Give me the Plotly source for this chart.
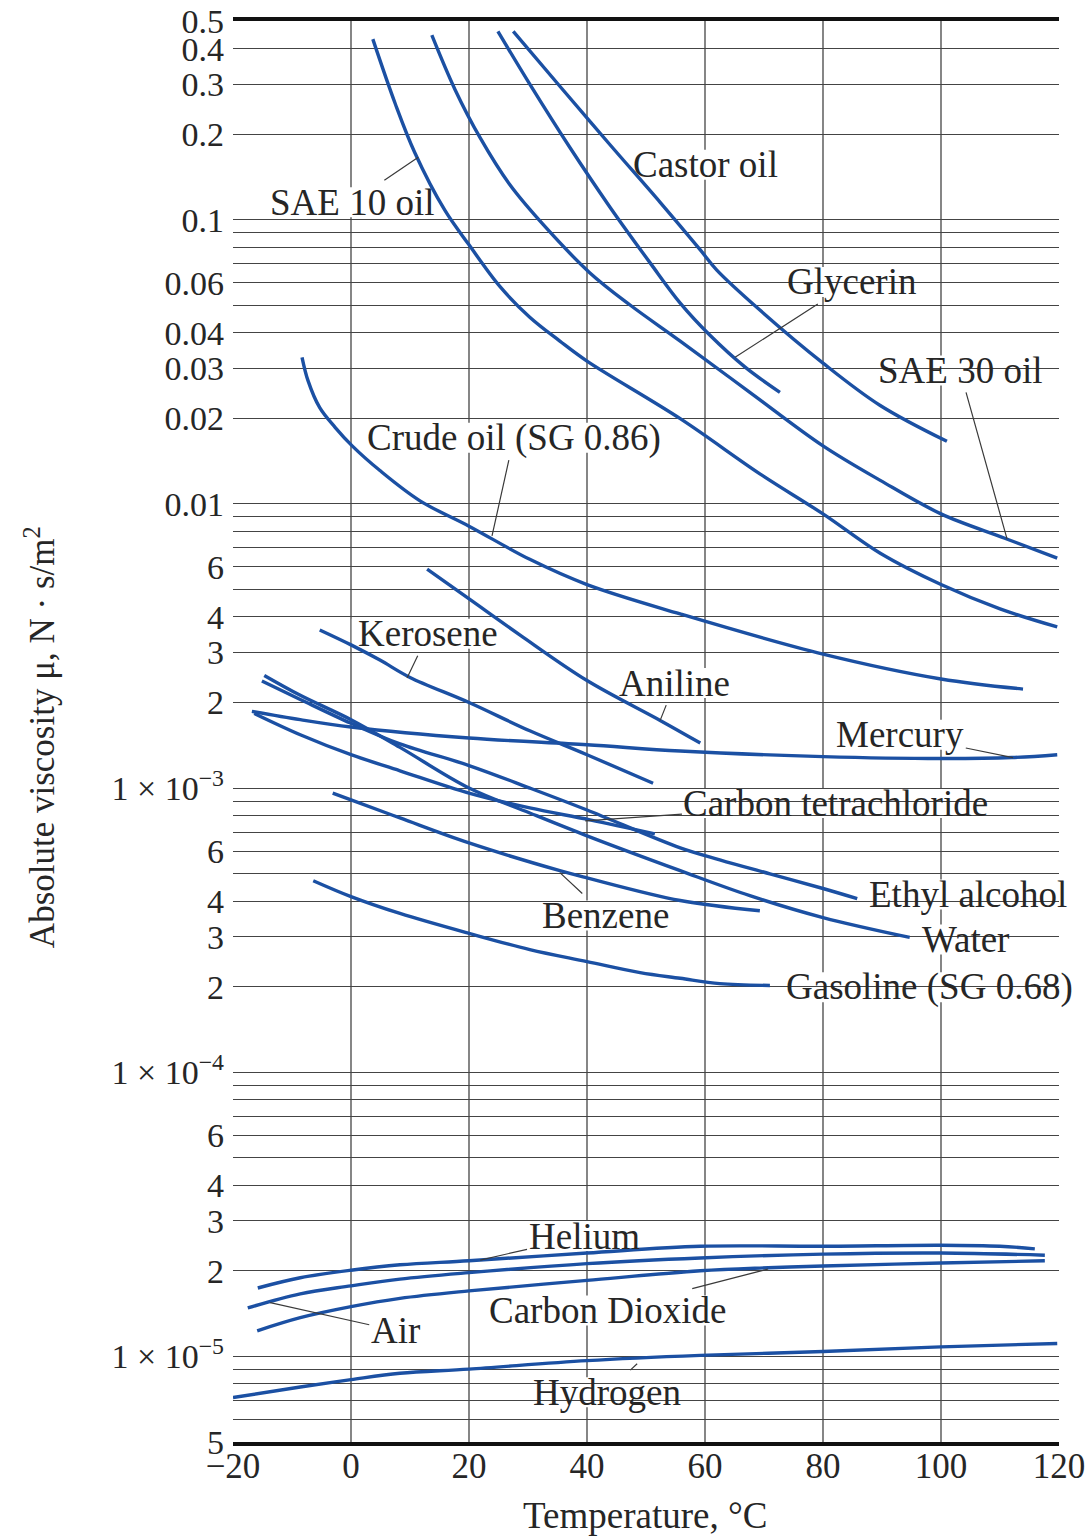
import numpy as np
import plotly.graph_objects as go

# ---------------- data: temperature (deg C) and absolute viscosity (N*s/m^2) ----------------
SAE10_T = [3.7, 7.5, 10.8, 15.9, 20, 25.3, 30.3, 35.4, 40, 55.8, 69.3, 80, 89.7, 100, 110, 119.7]
SAE10_MU = [0.432, 0.256, 0.1725, 0.108, 0.0816, 0.058, 0.0454, 0.0374, 0.0318, 0.01995,
            0.01276, 0.00922, 0.0067, 0.0052, 0.00427, 0.00369]

SAE30_T = [13.7, 17.6, 21.9, 26.9, 32.9, 40.5, 47.3, 55.8, 67.6, 80, 89.7, 100, 110.8, 119.7]
SAE30_MU = [0.446, 0.288, 0.194, 0.133, 0.0945, 0.065, 0.0501, 0.0374, 0.0247, 0.016,
            0.0121, 0.00922, 0.00757, 0.00644]

GLYCERIN_T = [24.9, 30.3, 37.1, 43.9, 50.7, 55.8, 60.8, 66.8, 72.7]
GLYCERIN_MU = [0.46, 0.30, 0.1795, 0.1107, 0.0705, 0.0509, 0.0393, 0.0303, 0.0247]

CASTOR_T = [27.5, 35.4, 43.9, 52.4, 59.2, 62, 69.3, 80, 89.7, 101]
CASTOR_MU = [0.46, 0.295, 0.1836, 0.1151, 0.0783, 0.0665, 0.0481, 0.0313, 0.0222, 0.0166]

CRUDE_T = [-8.3, -7.3, -5.3, -2.7, 0.2, 4.9, 11.7, 20, 30.3, 40, 55.8, 80, 100, 113.9]
CRUDE_MU = [0.0328, 0.0272, 0.0218, 0.0186, 0.016, 0.0131, 0.01025, 0.00835, 0.00638, 0.0052,
            0.0041, 0.00296, 0.00242, 0.00223]

KEROSENE_T = [-5.3, 0, 4.9, 10, 20, 30.3, 40, 51.2]
KEROSENE_MU = [0.0036, 0.00319, 0.00282, 0.00245, 0.0020, 0.00159, 0.00131, 0.00104]

ANILINE_T = [12.9, 20.2, 28.6, 40, 52.4, 59.2]
ANILINE_MU = [0.00589, 0.0046, 0.00346, 0.00239, 0.00173, 0.00144]

MERCURY_T = [-16.8, -8.6, 0, 20, 40, 55.8, 80, 100, 112, 119.7]
MERCURY_MU = [0.00186, 0.00174, 0.00164, 0.00150, 0.00142, 0.00135, 0.00129, 0.00127,
              0.00128, 0.00131]

WATER_T = [-14.7, -8.6, 0, 8.3, 20, 30.3, 40, 55.8, 67.6, 80, 94.7]
WATER_MU = [0.00249, 0.00212, 0.00174, 0.00139, 0.0010, 0.000817, 0.000679, 0.000512,
            0.000418, 0.00035, 0.000298]

ETHANOL_T = [-15.1, -8.6, 0, 8.3, 20, 30.3, 40, 55.8, 62.5, 71, 80, 85.8]
ETHANOL_MU = [0.00238, 0.00205, 0.00169, 0.00143, 0.0012, 0.0010, 0.000837, 0.000616,
              0.000559, 0.000499, 0.000443, 0.000408]

CCL4_T = [-16.4, -8.6, 0, 8.3, 20, 30.3, 40.5, 51.5]
CCL4_MU = [0.00183, 0.00154, 0.00131, 0.00115, 0.00096, 0.000851, 0.000773, 0.00069]

BENZENE_T = [-3.1, 0, 8.3, 20, 35.4, 40, 55.8, 69.3]
BENZENE_MU = [0.00096, 0.000908, 0.000785, 0.000641, 0.000512, 0.000483, 0.000402, 0.00037]

GASOLINE_T = [-6.4, 0, 8.3, 20, 30.3, 40, 49, 55.8, 62.5, 71]
GASOLINE_MU = [0.000472, 0.000415, 0.000362, 0.000308, 0.00027, 0.000245, 0.000224,
               0.000214, 0.000205, 0.000202]

HELIUM_T = [-15.8, -8.6, 0, 8.3, 20, 40, 59.2, 80, 100, 110, 115.9]
HELIUM_MU = [1.74e-5, 1.89e-5, 2.01e-5, 2.10e-5, 2.17e-5, 2.31e-5, 2.44e-5, 2.44e-5,
             2.46e-5, 2.44e-5, 2.39e-5]

AIR_T = [-17.5, -8.6, 0, 8.3, 20, 40, 59.2, 80, 100, 117.6]
AIR_MU = [1.48e-5, 1.66e-5, 1.77e-5, 1.87e-5, 1.97e-5, 2.12e-5, 2.22e-5, 2.29e-5, 2.31e-5, 2.27e-5]

CO2_T = [-15.9, -8.6, 0, 8.3, 20, 40, 59.2, 70.7, 80, 100, 117.6]
CO2_MU = [1.23e-5, 1.368e-5, 1.496e-5, 1.60e-5, 1.70e-5, 1.85e-5, 2.00e-5, 2.05e-5, 2.08e-5,
          2.13e-5, 2.17e-5]

HYDROGEN_T = [-20, -8.6, 0, 8.3, 20, 40, 59.2, 80, 100, 119.7]
HYDROGEN_MU = [7.16e-6, 7.80e-6, 8.28e-6, 8.72e-6, 9.02e-6, 9.66e-6, 1.008e-5, 1.04e-5,
               1.08e-5, 1.11e-5]

SERIES = [
    ("SAE 10 oil", SAE10_T, SAE10_MU),
    ("SAE 30 oil", SAE30_T, SAE30_MU),
    ("Glycerin", GLYCERIN_T, GLYCERIN_MU),
    ("Castor oil", CASTOR_T, CASTOR_MU),
    ("Crude oil (SG 0.86)", CRUDE_T, CRUDE_MU),
    ("Kerosene", KEROSENE_T, KEROSENE_MU),
    ("Aniline", ANILINE_T, ANILINE_MU),
    ("Mercury", MERCURY_T, MERCURY_MU),
    ("Water", WATER_T, WATER_MU),
    ("Ethyl alcohol", ETHANOL_T, ETHANOL_MU),
    ("Carbon tetrachloride", CCL4_T, CCL4_MU),
    ("Benzene", BENZENE_T, BENZENE_MU),
    ("Gasoline (SG 0.68)", GASOLINE_T, GASOLINE_MU),
    ("Helium", HELIUM_T, HELIUM_MU),
    ("Air", AIR_T, AIR_MU),
    ("Carbon Dioxide", CO2_T, CO2_MU),
    ("Hydrogen", HYDROGEN_T, HYDROGEN_MU),
]

# ---------------- axes ----------------
X_TICKS = [-20, 0, 20, 40, 60, 80, 100, 120]
X_TICK_TEXT = ["\u221220", "0", "20", "40", "60", "80", "100", "120"]
X_GRID = [0, 20, 40, 60, 80, 100]

# labelled horizontal grid lines
Y_TICKS = [0.5, 0.4, 0.3, 0.2, 0.1, 0.06, 0.04, 0.03, 0.02, 0.01,
           6e-3, 4e-3, 3e-3, 2e-3, 1e-3,
           6e-4, 4e-4, 3e-4, 2e-4, 1e-4,
           6e-5, 4e-5, 3e-5, 2e-5, 1e-5, 5e-6]
Y_TICK_TEXT = ["0.5", "0.4", "0.3", "0.2", "0.1", "0.06", "0.04", "0.03", "0.02", "0.01",
               "6", "4", "3", "2", "1 \u00d7 10<sup>\u22123</sup>",
               "6", "4", "3", "2", "1 \u00d7 10<sup>\u22124</sup>",
               "6", "4", "3", "2", "1 \u00d7 10<sup>\u22125</sup>", "5"]
# unlabelled horizontal grid lines
Y_GRID_ONLY = [0.09, 0.08, 0.07, 0.05,
               9e-3, 8e-3, 7e-3, 5e-3,
               9e-4, 8e-4, 7e-4, 5e-4,
               9e-5, 8e-5, 7e-5, 5e-5,
               9e-6, 8e-6, 7e-6, 6e-6]

X_RANGE = [-20, 120]
Y_MIN, Y_MAX = 5e-6, 0.5

# label: text, text-centre (T, mu), leader target (T, mu) or None, white gap width (px)
LABELS = [
    ("SAE 10 oil", 0.2, 0.1151, 11.4, 0.166, 175),
    ("Castor oil", 60.0, 0.156, None, None, 154),
    ("Glycerin", 84.9, 0.0604, 65.1, 0.0328, 135),
    ("SAE 30 oil", 103.2, 0.0295, 111.2, 0.00752, 176),
    ("Crude oil (SG 0.86)", 27.6, 0.0171, 23.9, 0.00771, 312),
    ("Kerosene", 13.1, 0.00349, 9.5, 0.00244, 147),
    ("Aniline", 54.9, 0.00234, 52.4, 0.00173, 118),
    ("Mercury", 93.1, 0.00154, 112.2, 0.00128, 134),
    ("Carbon tetrachloride", 82.2, 0.000885, 39.7, 0.000766, 327),
    ("Ethyl alcohol", 104.6, 0.000422, None, None, 211),
    ("Water", 104.1, 0.000293, None, None, 92),
    ("Benzene", 43.2, 0.000356, 35.4, 0.000504, 133),
    ("Gasoline (SG 0.68)", 98.0, 0.000199, None, None, 306),
    ("Helium", 39.5, 2.65e-5, 21.9, 2.18e-5, 120),
    ("Carbon Dioxide", 43.4, 1.449e-5, 70.7, 2.03e-5, 255),
    ("Air", 7.5, 1.233e-5, -13.7, 1.545e-5, 48),
    ("Hydrogen", 43.4, 7.48e-6, 48.5, 9.42e-6, 160),
]

FONT = "Liberation Serif, Times New Roman, serif"
LINE_COLOR = "#1b50a3"
GRID_COLOR = "#444444"
TEXT_COLOR = "#262626"

fig = go.Figure()
for name, t, mu in SERIES:
    fig.add_trace(go.Scatter(x=t, y=mu, mode="lines", name=name,
                             line=dict(color=LINE_COLOR, width=3.4, shape="spline", smoothing=1.0),
                             hoverinfo="name+x+y"))

# vertical grid lines
for t in X_GRID:
    fig.add_shape(type="line", xref="x", yref="paper", x0=t, x1=t, y0=0, y1=1,
                  line=dict(color=GRID_COLOR, width=1.3), layer="below")

ylog_min, ylog_max = np.log10(Y_MIN) - 0.0004, np.log10(Y_MAX) + 0.0004

for text, ct, cmu, tt, tmu, w in LABELS:
    # white gap in the grid behind each label
    fig.add_shape(type="rect", xref="x", yref="paper",
                  xsizemode="pixel", ysizemode="pixel",
                  xanchor=ct, yanchor=(np.log10(cmu) - ylog_min) / (ylog_max - ylog_min),
                  x0=-w / 2 - 3, x1=w / 2 + 3, y0=-15, y1=15,
                  fillcolor="white", line=dict(width=0), layer="between")
    if tt is None:
        fig.add_annotation(x=ct, y=np.log10(cmu), xref="x", yref="y", text=text,
                           showarrow=False, xanchor="center", yanchor="middle",
                           font=dict(family=FONT, size=37, color=TEXT_COLOR))
    else:
        fig.add_annotation(x=tt, y=np.log10(tmu), xref="x", yref="y",
                           ax=ct, ay=np.log10(cmu), axref="x", ayref="y",
                           text=text, showarrow=True, arrowhead=0, arrowwidth=1.2,
                           arrowcolor="#3a3a3a", standoff=0,
                           font=dict(family=FONT, size=37, color=TEXT_COLOR))

# axis titles
fig.add_annotation(xref="paper", yref="paper", x=-0.2337, y=0.496, textangle=-90,
                   xanchor="center", yanchor="middle",
                   text="Absolute viscosity \u03bc, N \u00b7 s/m<sup>2</sup>", showarrow=False,
                   font=dict(family=FONT, size=35, color=TEXT_COLOR))
fig.add_annotation(xref="paper", yref="paper", x=0.499, y=-0.0514,
                   xanchor="center", yanchor="middle",
                   text="Temperature, \u00b0C", showarrow=False,
                   font=dict(family=FONT, size=37, color=TEXT_COLOR))

fig.update_xaxes(range=X_RANGE, tickmode="array", tickvals=X_TICKS, ticktext=X_TICK_TEXT,
                 showgrid=False, zeroline=False, showline=True, mirror=True,
                 linecolor="#111111", linewidth=3.5, ticks="", ticklabelstandoff=-10,
                 ticklabeloverflow="allow", automargin=False,
                 tickfont=dict(family=FONT, size=35, color=TEXT_COLOR))
fig.update_yaxes(type="log", range=[ylog_min, ylog_max], tickmode="array",
                 tickvals=Y_TICKS, ticktext=Y_TICK_TEXT,
                 showgrid=True, gridcolor=GRID_COLOR, gridwidth=1.3, zeroline=False,
                 showline=False, ticks="", ticklabelstandoff=8, ticklabeloverflow="allow",
                 automargin=False,
                 minor=dict(tickmode="array", tickvals=Y_GRID_ONLY, showgrid=True,
                            gridcolor=GRID_COLOR, gridwidth=1.3, ticks=""),
                 tickfont=dict(family=FONT, size=34, color=TEXT_COLOR))

fig.update_layout(width=1090, height=1538,
                  margin=dict(l=233, r=31, t=21, b=96, autoexpand=False),
                  plot_bgcolor="white", paper_bgcolor="white", showlegend=False,
                  font=dict(family=FONT, color=TEXT_COLOR))

# remove the default 8 px page margin so the 1090x1538 figure fills the window exactly
fig.write_html("out.html", config={"displayModeBar": False},
               post_script="document.body.style.margin='0';document.body.style.overflow='hidden';")
